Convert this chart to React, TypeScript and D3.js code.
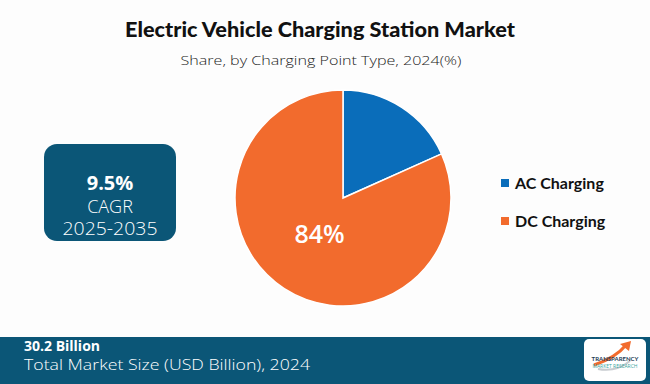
import * as d3 from "d3";

// chart data
const categories = ["AC Charging", "DC Charging"];
const shares = [18.3, 81.7]; // slice sizes
const sliceLabels = ["", "84%"];
const colors = ["#0A6DBA", "#F26B2D"];

const title = "Electric Vehicle Charging Station Market";
const subtitle = "Share, by Charging Point Type, 2024(%)";
const cagrValue = "9.5%";
const cagrPeriod = "2025-2035";
const marketSize = "30.2 Billion";
const marketLabel = "Total Market Size  (USD Billion),  2024";

const W = 650;
const H = 384;
const teal = "#0B5677";

const App = () => {
  const cx = 343;
  const cy = 198;
  const radius = 108;

  const pie = d3
    .pie<number>()
    .sort(null)
    .value((d) => d);
  const arcs = pie(shares);

  const arc = d3.arc<d3.PieArcDatum<number>>().innerRadius(0).outerRadius(radius);
  const labelArc = d3
    .arc<d3.PieArcDatum<number>>()
    .innerRadius(radius * 0.4)
    .outerRadius(radius * 0.4);

  const bodyFont = "'Open Sans', 'Noto Sans', sans-serif";
  const boldFont = "Lato, 'Open Sans', sans-serif";

  return (
    <svg
      width={W}
      height={H}
      style={{ position: "absolute", left: 0, top: 0, background: "#fdfdfd" }}
    >
      <rect width={W} height={H} fill="#fdfdfd" />

      {/* headings */}
      <text
        x={320}
        y={37}
        textAnchor="middle"
        fontFamily={boldFont}
        fontWeight={900}
        fontSize={21}
        fill="#111"
        textLength={390}
        lengthAdjust="spacingAndGlyphs"
      >
        {title}
      </text>
      <text
        x={321}
        y={65}
        textAnchor="middle"
        fontFamily={bodyFont}
        fontWeight={300}
        fontSize={13.5}
        fill="#222"
        textLength={281}
        lengthAdjust="spacingAndGlyphs"
      >
        {subtitle}
      </text>

      {/* CAGR box */}
      <rect x={44} y={144} width={132} height={97} rx={13} fill={teal} />
      <text
        x={110}
        y={190}
        textAnchor="middle"
        fontFamily={bodyFont}
        fontWeight={700}
        fontSize={20}
        fill="#fff"
      >
        {cagrValue}
      </text>
      <text
        x={110}
        y={213}
        textAnchor="middle"
        fontFamily={bodyFont}
        fontWeight={300}
        fontSize={18}
        fill="#fff"
      >
        CAGR
      </text>
      <text
        x={110}
        y={235}
        textAnchor="middle"
        fontFamily={bodyFont}
        fontWeight={300}
        fontSize={18}
        fill="#fff"
        textLength={95}
        lengthAdjust="spacingAndGlyphs"
      >
        {cagrPeriod}
      </text>

      {/* pie */}
      <g transform={`translate(${cx},${cy})`}>
        {arcs.map((a, i) => (
          <path
            key={categories[i]}
            d={arc(a) || ""}
            fill={colors[i]}
            stroke="#fff"
            strokeWidth={1.5}
          />
        ))}
        {arcs.map((a, i) => {
          const [lx, ly] = labelArc.centroid(a);
          return (
            <text
              key={"l" + i}
              x={lx}
              y={ly}
              dy="0.36em"
              textAnchor="middle"
              fontFamily={bodyFont}
              fontWeight={600}
              fontSize={25}
              fill="#fff"
            >
              {sliceLabels[i]}
            </text>
          );
        })}
      </g>

      {/* legend */}
      {categories.map((c, i) => (
        <g key={c} transform={`translate(501,${183 + i * 38})`}>
          <rect x={0} y={-4} width={8} height={8} fill={colors[i]} />
          <text
            x={14}
            y={0}
            dy="0.35em"
            fontFamily={boldFont}
            fontWeight={700}
            fontSize={16}
            fill="#111"
          >
            {c}
          </text>
        </g>
      ))}

      {/* footer */}
      <rect x={0} y={337} width={W} height={H - 337} fill={teal} />
      <text
        x={24}
        y={351}
        fontFamily={bodyFont}
        fontWeight={700}
        fontSize={14}
        fill="#fff"
      >
        {marketSize}
      </text>
      <text
        x={24}
        y={370}
        fontFamily={bodyFont}
        fontWeight={300}
        fontSize={15}
        fill="#fff"
        textLength={286}
        lengthAdjust="spacingAndGlyphs"
      >
        {marketLabel}
      </text>

      {/* logo */}
      <g transform="translate(584,339)">
        <rect width={62} height={42} rx={5} fill="#fff" />
        <path
          d="M10,26 C22,22 34,16 42,6"
          fill="none"
          stroke="#F26B2D"
          strokeWidth={3}
        />
        <path d="M36,5 L47,2 L45,12 Z" fill="#F26B2D" />
        <path
          d="M14,30 C24,32 36,30 46,22"
          fill="none"
          stroke="#c8ccd0"
          strokeWidth={2}
        />
        <text
          x={31}
          y={22}
          textAnchor="middle"
          fontFamily={boldFont}
          fontWeight={700}
          fontSize={6}
          fill="#1d3b55"
        >
          TRANSPARENCY
        </text>
        <text
          x={31}
          y={29}
          textAnchor="middle"
          fontFamily={bodyFont}
          fontSize={5}
          fill="#3aa6a0"
        >
          MARKET RESEARCH
        </text>
      </g>
    </svg>
  );
};

export default App;
